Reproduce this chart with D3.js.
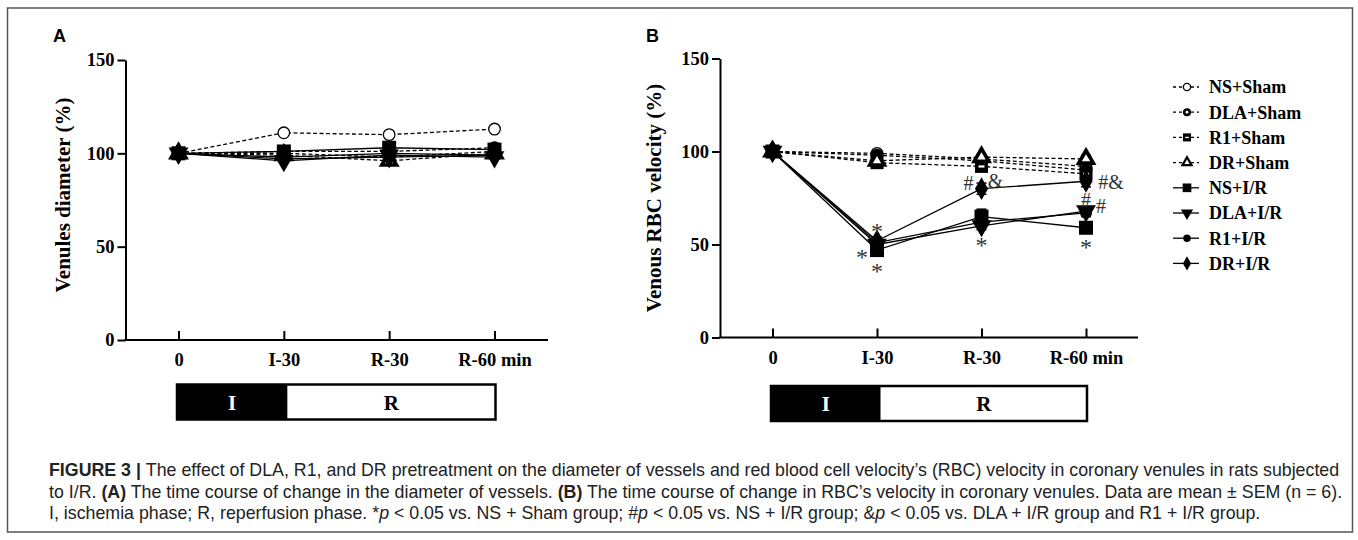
<!DOCTYPE html>
<html>
<head>
<meta charset="utf-8">
<script src="https://cdn.jsdelivr.net/npm/d3@7"></script>
<style>
  body { margin: 0; background: #fff; }
  svg { display: block; }
</style>
</head>
<body>
<svg id="chart" width="1358" height="540"></svg>
<script>
// time points on the x axis
const timepoints = ['0', 'I-30', 'R-30', 'R-60 min']
const yTicks = [0, 50, 100, 150]

const groups = ['NS+Sham', 'DLA+Sham', 'R1+Sham', 'DR+Sham', 'NS+I/R', 'DLA+I/R', 'R1+I/R', 'DR+I/R']
const groupMarkers = ['openCircle', 'dotCircle', 'dashSquare', 'openTriangle', 'square', 'triangleDown', 'circle', 'diamond']
const groupDashed = [true, true, true, true, false, false, false, false]

// panel A: venules diameter (%)
const diameterValues = [
  [100, 111, 110, 113],
  [100, 101, 101, 103],
  [100, 100, 98, 101],
  [100, 99, 96, 100],
  [100, 101, 103, 102],
  [100, 96, 99, 98],
  [100, 98, 100, 99],
  [100, 97, 98, 99]
]
const diameterSem = [
  [0, 1, 1, 1],
  [0, 1, 1, 1],
  [0, 1, 1, 1],
  [0, 1, 1, 1],
  [0, 2, 3, 2],
  [0, 1, 2, 1],
  [0, 1, 1, 1],
  [0, 1, 1, 1]
]

// panel B: venous RBC velocity (%)
const velocityValues = [
  [100, 99, 96, 92],
  [100, 98, 95, 90],
  [100, 94, 92, 88],
  [100, 95, 97, 96],
  [100, 47, 65, 59],
  [100, 50, 60, 68],
  [100, 51, 62, 67],
  [100, 52, 80, 84]
]
const velocitySem = [
  [0, 1, 1, 2],
  [0, 1, 1, 2],
  [0, 1, 1, 2],
  [0, 1, 1, 2],
  [0, 3, 4, 3],
  [0, 2, 2, 2],
  [0, 2, 2, 2],
  [0, 2, 3, 3]
]

// significance marks in panel B (time point, value, horizontal shift, symbol)
const velocityMarks = [
  { t: 'I-30', v: 59, dx: 0, s: '*' },
  { t: 'I-30', v: 45, dx: -15, s: '*' },
  { t: 'I-30', v: 37, dx: 0, s: '*' },
  { t: 'R-30', v: 51, dx: 0, s: '*' },
  { t: 'R-60 min', v: 50, dx: 0, s: '*' },
  { t: 'R-30', v: 83, dx: -13, s: '#' },
  { t: 'R-30', v: 84, dx: 14, s: '&' },
  { t: 'R-60 min', v: 83.5, dx: 25, s: '#&' },
  { t: 'R-60 min', v: 74, dx: 0, s: '#' },
  { t: 'R-60 min', v: 70.5, dx: 15, s: '#' }
]

const phases = ['I', 'R']

const serif = "'Liberation Serif', 'Times New Roman', serif"
const sans = "'Liberation Sans', Arial, sans-serif"

const svg = d3.select('#chart')

// outer frame
svg.append('rect')
    .attr('x', 7.5)
    .attr('y', 8)
    .attr('width', 1345)
    .attr('height', 524)
    .attr('fill', 'none')
    .attr('stroke', '#555')
    .attr('stroke-width', 1.5)

function drawMarker (g, type, k) {
  const sym = (t, s) => d3.symbol(t, s * k * k)()
  if (type === 'openCircle') {
    g.append('circle').attr('r', 5.8 * k)
        .attr('fill', '#fff').attr('stroke', '#000').attr('stroke-width', 1.3)
  } else if (type === 'dotCircle') {
    g.append('circle').attr('r', 6.5 * k).attr('fill', '#000')
    g.append('circle').attr('r', 2.2 * k).attr('fill', '#fff')
  } else if (type === 'dashSquare') {
    g.append('path').attr('d', sym(d3.symbolSquare, 170)).attr('fill', '#000')
    g.append('rect').attr('x', -3 * k).attr('y', -1 * k).attr('width', 6 * k).attr('height', 2.2 * k).attr('fill', '#fff')
  } else if (type === 'openTriangle') {
    g.append('path').attr('d', sym(d3.symbolTriangle, 190)).attr('fill', '#000')
    g.append('path').attr('d', sym(d3.symbolTriangle, 30)).attr('fill', '#fff')
  } else if (type === 'square') {
    g.append('path').attr('d', sym(d3.symbolSquare, 196)).attr('fill', '#000')
  } else if (type === 'triangleDown') {
    g.append('path').attr('d', sym(d3.symbolTriangle, 170)).attr('fill', '#000')
        .attr('transform', 'rotate(180)')
  } else if (type === 'circle') {
    g.append('circle').attr('r', 6 * k).attr('fill', '#000')
  } else if (type === 'diamond') {
    g.append('path').attr('d', sym(d3.symbolDiamond, 150)).attr('fill', '#000')
  }
}

function drawPanel (opt) {
  const g = svg.append('g')
  const x = d3.scalePoint().domain(timepoints).range(opt.xRange)
  const y = d3.scaleLinear().domain([0, 150]).range(opt.yRange)

  // panel letter
  g.append('text')
      .attr('x', opt.letterX)
      .attr('y', 42)
      .attr('font-family', sans)
      .attr('font-weight', 'bold')
      .attr('font-size', 18)
      .text(opt.letter)

  // y axis
  const yAxis = g.append('g')
      .attr('transform', 'translate(' + opt.axisX + ',0)')
      .call(d3.axisLeft(y).tickValues(yTicks).tickSize(8).tickSizeOuter(0).tickPadding(3))
  yAxis.select('.domain').attr('stroke-width', 2)
  yAxis.selectAll('.tick line').attr('stroke-width', 2)

  // x axis: ticks pointing inward, line running past the last point
  const xAxis = g.append('g')
      .attr('transform', 'translate(0,' + opt.yRange[0] + ')')
      .call(d3.axisBottom(x).tickSize(-9).tickPadding(13))
  xAxis.select('.domain').remove()
  xAxis.selectAll('.tick line').attr('stroke-width', 2)
  g.append('line')
      .attr('x1', opt.axisX - 1)
      .attr('x2', opt.xAxisEnd)
      .attr('y1', opt.yRange[0])
      .attr('y2', opt.yRange[0])
      .attr('stroke', '#000')
      .attr('stroke-width', 2)

  g.selectAll('.tick text')
      .attr('font-family', serif)
      .attr('font-weight', 'bold')
      .attr('font-size', 18.5)
      .attr('fill', '#000')

  // axis title
  g.append('text')
      .attr('transform', 'translate(' + opt.titleX + ',' + opt.titleY + ') rotate(-90)')
      .attr('text-anchor', 'middle')
      .attr('dominant-baseline', 'central')
      .attr('font-family', serif)
      .attr('font-weight', 'bold')
      .attr('font-size', 21)
      .text(opt.title)

  // series
  const line = d3.line()
      .x((d, i) => x(timepoints[i]))
      .y(d => y(d))

  opt.values.forEach(function (vals, gi) {
    const s = g.append('g')
    s.append('path')
        .attr('d', line(vals))
        .attr('fill', 'none')
        .attr('stroke', '#000')
        .attr('stroke-width', 1.3)
        .attr('stroke-dasharray', groupDashed[gi] ? '4,2.5' : null)

    vals.forEach(function (v, i) {
      const e = opt.sem[gi][i]
      if (!e) return
      const cx = x(timepoints[i])
      s.append('line')
          .attr('x1', cx).attr('x2', cx)
          .attr('y1', y(v - e)).attr('y2', y(v + e))
          .attr('stroke', '#000').attr('stroke-width', 1.3)
      ;[v - e, v + e].forEach(function (w) {
        s.append('line')
            .attr('x1', cx - 5).attr('x2', cx + 5)
            .attr('y1', y(w)).attr('y2', y(w))
            .attr('stroke', '#000').attr('stroke-width', 1.5)
      })
    })

    vals.forEach(function (v, i) {
      const m = s.append('g')
          .attr('transform', 'translate(' + x(timepoints[i]) + ',' + y(v) + ')')
      drawMarker(m, groupMarkers[gi], 1)
    })
  })

  // significance marks
  if (opt.marks) {
    const lift = { '*': 0.45, '#': 0.34, '&': 0.34, '#&': 0.34 }
    const size = { '*': 24, '#': 20, '&': 20, '#&': 20 }
    g.selectAll('.mark')
      .data(opt.marks)
      .enter().append('text')
        .attr('x', d => x(d.t) + d.dx)
        .attr('y', d => y(d.v))
        .attr('dy', d => lift[d.s] + 'em')
        .attr('text-anchor', 'middle')
        .attr('font-family', serif)
        .attr('font-size', d => size[d.s])
        .attr('fill', '#333')
        .text(d => d.s)
  }

  // ischemia / reperfusion bar
  const bx0 = x(timepoints[0]) - 1.5
  const bx1 = x(timepoints[1]) + 3.5
  const bx2 = x(timepoints[3]) + 1
  const bar = g.append('g')
  bar.append('rect')
      .attr('x', bx0).attr('y', opt.barY)
      .attr('width', bx2 - bx0).attr('height', 35)
      .attr('fill', '#fff').attr('stroke', '#000').attr('stroke-width', 2.5)
  bar.append('rect')
      .attr('x', bx0).attr('y', opt.barY)
      .attr('width', bx1 - bx0).attr('height', 35)
      .attr('fill', '#000')
  bar.selectAll('text')
    .data(phases)
    .enter().append('text')
      .attr('x', (d, i) => i === 0 ? (bx0 + bx1) / 2 : (bx1 + bx2) / 2)
      .attr('y', opt.barY + 18)
      .attr('dy', '0.35em')
      .attr('text-anchor', 'middle')
      .attr('font-family', serif)
      .attr('font-weight', 'bold')
      .attr('font-size', 21)
      .attr('fill', (d, i) => i === 0 ? '#fff' : '#000')
      .text(d => d)

  return { x, y }
}

drawPanel({
  letter: 'A',
  letterX: 53,
  axisX: 125.5,
  xRange: [178.5, 494.5],
  xAxisEnd: 548,
  yRange: [340, 60],
  title: 'Venules diameter (%)',
  titleX: 63,
  titleY: 195,
  barY: 384.5,
  values: diameterValues,
  sem: diameterSem
})

drawPanel({
  letter: 'B',
  letterX: 646,
  axisX: 720,
  xRange: [772.5, 1086],
  xAxisEnd: 1138,
  yRange: [337.5, 58.5],
  title: 'Venous RBC velocity (%)',
  titleX: 654,
  titleY: 198,
  barY: 386,
  values: velocityValues,
  sem: velocitySem,
  marks: velocityMarks
})

// legend
const legend = svg.append('g').attr('transform', 'translate(1187,87)')
groups.forEach(function (name, i) {
  const row = legend.append('g').attr('transform', 'translate(0,' + i * 25.2 + ')')
  row.append('line')
      .attr('x1', -14).attr('x2', 12)
      .attr('stroke', '#000')
      .attr('stroke-width', 1.3)
      .attr('stroke-dasharray', groupDashed[i] ? '3,3' : null)
  drawMarker(row, groupMarkers[i], 0.62)
  row.append('text')
      .attr('x', 22)
      .attr('dy', '0.35em')
      .attr('font-family', serif)
      .attr('font-weight', 'bold')
      .attr('font-size', 18)
      .text(name)
})

// caption
const caption = svg.append('g')
    .attr('font-family', sans)
    .attr('font-size', 17.8)
    .attr('fill', '#222')
const captionLines = [
  [['b', 'FIGURE 3 | '], ['n', 'The effect of DLA, R1, and DR pretreatment on the diameter of vessels and red blood cell velocity\u2019s (RBC) velocity in coronary venules in rats subjected']],
  [['n', 'to I/R. '], ['b', '(A)'], ['n', ' The time course of change in the diameter of vessels. '], ['b', '(B)'], ['n', ' The time course of change in RBC\u2019s velocity in coronary venules. Data are mean \u00b1 SEM (n = 6).']],
  [['n', 'I, ischemia phase; R, reperfusion phase. *'], ['i', 'p'], ['n', ' < 0.05 vs. NS + Sham group; #'], ['i', 'p'], ['n', ' < 0.05 vs. NS + I/R group; &'], ['i', 'p'], ['n', ' < 0.05 vs. DLA + I/R group and R1 + I/R group.']]
]
captionLines.forEach(function (parts, li) {
  const t = caption.append('text')
      .attr('x', 49)
      .attr('y', 476 + li * 21.5)
  parts.forEach(function (p) {
    t.append('tspan')
        .attr('font-weight', p[0] === 'b' ? 'bold' : null)
        .attr('font-style', p[0] === 'i' ? 'italic' : null)
        .text(p[1])
  })
})
</script>
</body>
</html>
